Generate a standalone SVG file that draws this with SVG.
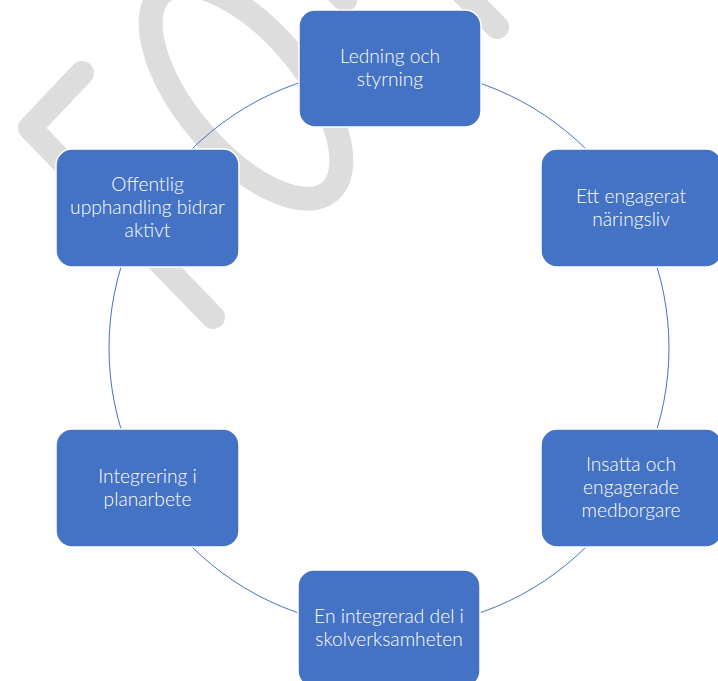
<svg xmlns="http://www.w3.org/2000/svg" width="718" height="681" viewBox="0 0 718 681">
<style>
.wm{fill:none;stroke:#dddddd;stroke-width:24;stroke-linejoin:round;stroke-linecap:round}
.node rect{fill:#4472c4;stroke:#ffffff;stroke-width:1.5}
.node text{fill:#ffffff;font-family:Lato,"Liberation Sans",sans-serif;font-weight:300;font-size:19.2px;text-anchor:middle}
.conn{fill:none;stroke:#4472c4;stroke-width:1}
</style>
<rect width="718" height="681" fill="#ffffff"/>
<g id="watermark">
<path class="wm" d="M82,73 L30,128 L213,317"/>
<ellipse class="wm" cx="246" cy="92" rx="130" ry="60" stroke-width="27" transform="rotate(50 246 92)"/>
<path class="wm" d="M305,-40 L345,0"/>
<path class="wm" d="M440,-30 L497,27"/>
</g>
<g id="connectors">
<circle class="conn" cx="389" cy="348" r="280"/>
</g>
<g id="n1" class="node"><rect x="299" y="10" width="182" height="117" rx="16"/><text x="390" y="63">Ledning och</text><text x="390" y="86">styrning</text></g>
<g id="n2" class="node"><rect x="541" y="149" width="181" height="118" rx="16"/><text x="631" y="203">Ett engagerat</text><text x="631" y="226">näringsliv</text></g>
<g id="n3" class="node"><rect x="56" y="149" width="183" height="118" rx="16"/><text x="147.5" y="191">Offentlig</text><text x="147.5" y="214">upphandling bidrar</text><text x="147.5" y="237">aktivt</text></g>
<g id="n4" class="node"><rect x="541" y="429" width="181" height="118" rx="16"/><text x="631" y="471">Insatta och</text><text x="631" y="494">engagerade</text><text x="631" y="517">medborgare</text></g>
<g id="n5" class="node"><rect x="56" y="429" width="183" height="118" rx="16"/><text x="147.5" y="483">Integrering i</text><text x="147.5" y="506">planarbete</text></g>
<g id="n6" class="node"><rect x="298" y="570" width="182" height="117" rx="16"/><text x="389" y="623">En integrerad del i</text><text x="389" y="646">skolverksamheten</text></g>
</svg>
